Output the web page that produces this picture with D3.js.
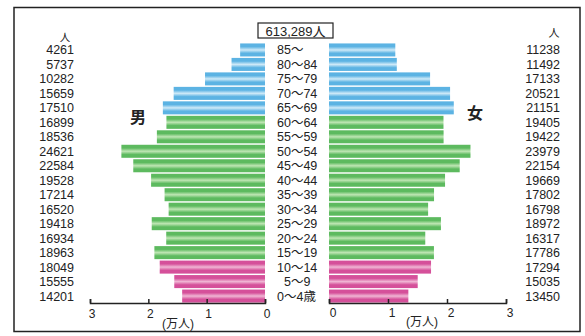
<!DOCTYPE html>
<html><head><meta charset="utf-8">
<script src="https://cdn.jsdelivr.net/npm/d3@7"></script>
<style>
body{margin:0;background:#fff;}
svg{display:block;font-family:"Liberation Sans","Noto Sans CJK JP",sans-serif;}
</style></head>
<body><svg id="c" width="585" height="336"></svg>
<script>
const ages = ["85～","80～84","75～79","70～74","65～69","60～64","55～59","50～54","45～49","40～44","35～39","30～34","25～29","20～24","15～19","10～14","5～9","0～4歳"];
const male = [4261,5737,10282,15659,17510,16899,18536,24621,22584,19528,17214,16520,19418,16934,18963,18049,15555,14201];
const female = [11238,11492,17133,20521,21151,19405,19422,23979,22154,19669,17802,16798,18972,16317,17786,17294,15035,13450];
const groups = ["old","old","old","old","old","work","work","work","work","work","work","work","work","work","work","young","young","young"];
const ticks = [0,1,2,3];
const total = "613,289人";

const svg = d3.select("#c");
const defs = svg.append("defs");
const pal = {old:["#5cb3e3","#cfeaf8"], work:["#5dba5f","#bfe6b4"], young:["#d5509a","#f0b6d4"]};
Object.entries(pal).forEach(([k,[e,c]])=>{
  const g = defs.append("linearGradient").attr("id","g_"+k).attr("x1",0).attr("y1",0).attr("x2",0).attr("y2",1);
  g.append("stop").attr("offset","0%").attr("stop-color",e);
  g.append("stop").attr("offset","25%").attr("stop-color",e);
  g.append("stop").attr("offset","50%").attr("stop-color",c);
  g.append("stop").attr("offset","75%").attr("stop-color",e);
  g.append("stop").attr("offset","100%").attr("stop-color",e);
});

// frame
svg.append("rect").attr("x",14).attr("y",7.5).attr("width",566).attr("height",324)
  .attr("fill","none").attr("stroke","#222").attr("stroke-width",1.5);

const y = d3.scaleBand().domain(ages).range([43,303]).paddingInner(0.1).paddingOuter(0.03);
const xL = d3.scaleLinear().domain([0,3]).range([265,90]);
const xR = d3.scaleLinear().domain([0,3]).range([329,506]);

// bars
svg.append("g").selectAll("rect").data(ages).join("rect")
  .attr("x",(d,i)=>xL(male[i]/10000)).attr("y",d=>y(d))
  .attr("width",(d,i)=>xL(0)-xL(male[i]/10000)).attr("height",y.bandwidth())
  .attr("fill",(d,i)=>`url(#g_${groups[i]})`);
svg.append("g").selectAll("rect").data(ages).join("rect")
  .attr("x",xR(0)).attr("y",d=>y(d))
  .attr("width",(d,i)=>xR(female[i]/10000)-xR(0)).attr("height",y.bandwidth())
  .attr("fill",(d,i)=>`url(#g_${groups[i]})`);

// axes
const axY = 303;
const aL = svg.append("g").attr("transform",`translate(0,${axY})`)
  .call(d3.axisTop(xL).tickValues(ticks).tickSize(4).tickFormat(""));
const aR = svg.append("g").attr("transform",`translate(0,${axY})`)
  .call(d3.axisTop(xR).tickValues(ticks).tickSize(4).tickFormat(""));
[aL,aR].forEach(a=>{a.selectAll("path,line").attr("stroke","#222").attr("stroke-width",1.5);});
svg.append("g").selectAll("text").data(ticks).join("text")
  .attr("x",d=>xL(d)+2).attr("y",318).attr("text-anchor","middle")
  .attr("font-size",12).attr("fill","#222").text(d=>d);
svg.append("g").selectAll("text").data(ticks).join("text")
  .attr("x",d=>xR(d)+4).attr("y",317).attr("text-anchor","middle")
  .attr("font-size",12).attr("fill","#222").text(d=>d);
svg.append("text").attr("x",178).attr("y",328).attr("text-anchor","middle")
  .attr("font-size",12).attr("fill","#222").text("(万人)");
svg.append("text").attr("x",422).attr("y",326).attr("text-anchor","middle")
  .attr("font-size",12).attr("fill","#222").text("(万人)");

// age labels
svg.append("g").selectAll("text").data(ages).join("text")
  .attr("x",d=>d==="5～9"?284:277).attr("y",d=>y(d)+y.bandwidth()/2+4.5)
  .attr("font-size",12.5).attr("fill","#222").text(d=>d);

// value labels
svg.append("g").selectAll("text").data(male).join("text")
  .attr("x",74).attr("y",(d,i)=>y(ages[i])+y.bandwidth()/2+4.5).attr("text-anchor","end")
  .attr("font-size",12.5).attr("fill","#222").text(d=>d);
svg.append("g").selectAll("text").data(female).join("text")
  .attr("x",560).attr("y",(d,i)=>y(ages[i])+y.bandwidth()/2+4.5).attr("text-anchor","end")
  .attr("font-size",12.5).attr("fill","#222").text(d=>d);
svg.append("text").attr("x",65).attr("y",40.5).attr("text-anchor","middle")
  .attr("font-size",10.5).attr("fill","#222").text("人");
svg.append("text").attr("x",554).attr("y",37).attr("text-anchor","middle")
  .attr("font-size",11).attr("fill","#222").text("人");

// sex labels
svg.append("text").attr("x",138).attr("y",123).attr("text-anchor","middle")
  .attr("font-size",16).attr("font-weight","bold").attr("fill","#222").text("男");
svg.append("text").attr("x",475).attr("y",119).attr("text-anchor","middle")
  .attr("font-size",16).attr("font-weight","bold").attr("fill","#222").text("女");

// total box
svg.append("rect").attr("x",258).attr("y",23).attr("width",75).attr("height",15)
  .attr("fill","#fff").attr("stroke","#222").attr("stroke-width",1.2);
svg.append("text").attr("x",295.5).attr("y",35.5).attr("text-anchor","middle")
  .attr("font-size",13).attr("fill","#222").text(total);
</script></body></html>
